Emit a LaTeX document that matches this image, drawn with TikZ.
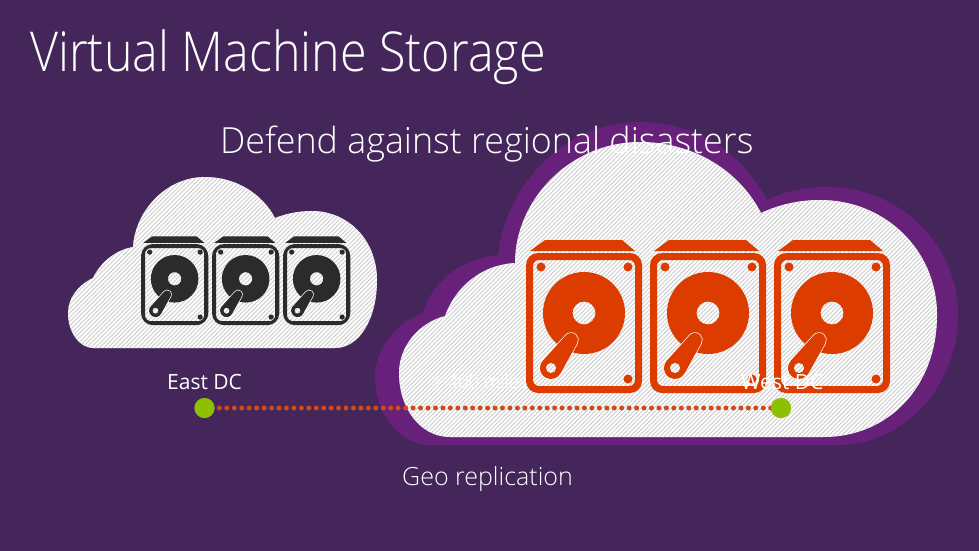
\documentclass[tikz,border=0pt]{standalone}
\usepackage{fontspec}
\setmainfont{Open Sans Light}
\newfontfamily\regfont{Open Sans}
\definecolor{bgc}{HTML}{44265A}
\definecolor{ringc}{HTML}{68217A}
\definecolor{orangec}{HTML}{DC3C00}
\definecolor{darkc}{HTML}{2B2B2B}
\definecolor{greenc}{HTML}{8DC000}
\definecolor{hatchc}{HTML}{CDCDCD}
\definecolor{dotc}{HTML}{CF4A1A}
\tikzset{
  label/.style={text=white,anchor=base west,inner sep=0pt},
  dcdot/.style={circle,fill=greenc,minimum size=20pt,inner sep=0pt},
}
\def\bigwhite{(445,316) .. controls (418,323) and (399,347) .. (399,373)
 .. controls (399,408) and (420,437) .. (450,437) -- (823,437)
 .. controls (890,437) and (937,385) .. (937,315)
 .. controls (937,250) and (885,200) .. (820,200)
 .. controls (798,200) and (778,205) .. (761,213)
 .. controls (740,172) and (695,142) .. (640,142)
 .. controls (570,142) and (515,200) .. (515,263)
 .. controls (480,265) and (455,288) .. (445,316) -- cycle}
\def\bigring{(423,313) .. controls (397,322) and (375,348) .. (375,377)
 .. controls (375,415) and (400,445) .. (430,445) -- (837,445)
 .. controls (905,445) and (958,385) .. (958,315)
 .. controls (958,245) and (900,187) .. (827,187)
 .. controls (805,187) and (785,191) .. (767,200)
 .. controls (742,152) and (695,122) .. (640,122)
 .. controls (560,122) and (505,190) .. (498,255)
 .. controls (460,258) and (430,285) .. (423,313) -- cycle}
\def\smallwhite{(93,278) .. controls (78,285) and (68,298) .. (68,313)
 .. controls (68,333) and (80,348) .. (93,348) -- (335,348)
 .. controls (360,348) and (377,318) .. (377,280)
 .. controls (377,240) and (348,211) .. (312,211)
 .. controls (298,211) and (285,214) .. (275,218)
 .. controls (262,193) and (235,177) .. (205,177)
 .. controls (165,177) and (135,212) .. (133,247)
 .. controls (115,250) and (100,263) .. (93,278) -- cycle}
\newcommand{\hatchfill}[3]{% path, from, to
  \begin{scope}
    \fill[white] #1;
    \clip #1;
    \foreach \k in {#2,...,#3} {
      \draw[hatchc,line width=.9pt] ({\k*4.3-551},551) -- ({\k*4.3},0);
    }
  \end{scope}}
\newcommand{\hdd}[4]{% x, y, scale, colour
  \begin{scope}[shift={(#1,#2)},scale=#3]
    \fill[#4,even odd rule,rounded corners=12pt] (0,0) rectangle (116,140)
      [rounded corners=6pt] (7,7) rectangle (109,133);
    \fill[#4] (19,-13) -- (96,-13) -- (109,-2) -- (4,-2) -- cycle;
    \fill[#4] (15,14) circle[radius=4.5pt] (102,14) circle[radius=4.5pt] (102,126) circle[radius=4.5pt];
    \fill[#4,even odd rule] (58,60) circle[radius=41pt] (58,60) circle[radius=11.5pt];
    \draw[white,line width=1.4pt] (16.85,107.6) -- (39.8,82.3) arc[start angle=137.9,end angle=-28.9,radius=7pt]
       -- (34.6,120.3) arc[start angle=-28.9,end angle=-222.1,radius=11pt] -- cycle;
    \fill[#4,even odd rule] (16.85,107.6) -- (39.8,82.3) arc[start angle=137.9,end angle=-28.9,radius=7pt]
       -- (34.6,120.3) arc[start angle=-28.9,end angle=-222.1,radius=11pt] -- cycle
       (25,115) circle[radius=5.2pt];
  \end{scope}}
\begin{document}
\begin{tikzpicture}[x=1pt,y=-1pt]
  \useasboundingbox (0,0) rectangle (979,551);
  \fill[bgc] (0,0) rectangle (979,551);
  \fill[ringc] \bigring;
  \hatchfill{\smallwhite}{78}{172}
  \hatchfill{\bigwhite}{160}{322}
  \foreach \dx in {0,71,142} { \hdd{141+\dx}{244}{.58}{darkc} }
  \foreach \dx in {0,124,248} { \hdd{526+\dx}{253}{1}{orangec} }

  \node[label,font=\fontsize{55}{55}\selectfont] (title) at (30,71) {\scalebox{.88}[1]{Virtual Machine Storage}};
  \node[label,font=\fontsize{36}{36}\selectfont] (sub) at (220,153) {\scalebox{.995}[1]{Defend against regional disasters}};
  \node[label,font=\regfont\fontsize{21}{21}\selectfont] (east) at (167,389) {East DC};
  \node[label,font=\regfont\fontsize{21}{21}\selectfont] (west) at (741,389) {West DC};
  \node[label,font=\fontsize{18.5}{18.5}\selectfont] (miles) at (432,388) {> 400 miles};
  \node[label,font=\fontsize{25}{25}\selectfont] (geo) at (402,485) {Geo replication};

  \node[dcdot] (e) at (204.5,408) {};
  \node[dcdot] (w) at (781,408) {};
  \draw[dotc,line width=5pt,line cap=round,dash pattern=on 0pt off 7.45pt] (e.center) -- (w.center);
  \node[dcdot] at (e.center) {};
  \node[dcdot] at (w.center) {};
\end{tikzpicture}
\end{document}
